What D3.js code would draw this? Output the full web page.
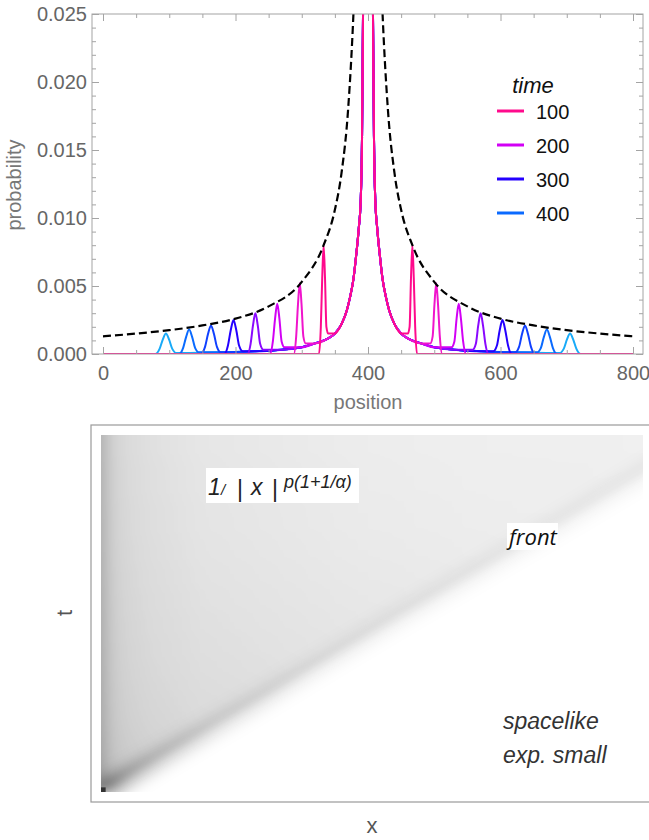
<!DOCTYPE html>
<html>
<head>
<meta charset="utf-8">
<script src="https://cdn.jsdelivr.net/npm/d3@7"></script>
<style>
body { margin: 0; background: #fff; }
svg { display: block; font-family: "Liberation Sans", Arial, sans-serif; }
</style>
</head>
<body>
<svg id="chart" width="649" height="840"></svg>
<script>
// ---------------- top panel: probability vs position ----------------
var times = [100, 150, 200, 250, 300, 350, 400, 450];
var colors = ["#ff0a8c", "#f014cc", "#d200f5", "#8a08ff", "#2400ff", "#1040ff", "#0a6aff", "#18aaf8"];
var legendTimes = [100, 200, 300, 400];
var center = 400;
// ballistic front of each curve (distance from the centre)
var frontOffset = [67, 103, 137, 170, 203, 237, 270, 305];
var frontPeak = [0.0080, 0.0052, 0.0037, 0.0030, 0.0025, 0.0021, 0.0018, 0.0015];
var frontHalfWidth = [7, 9, 11, 12, 14, 15, 15, 16];
// shape of a front bump (u in half widths, fraction of peak)
var bumpU = [-1, -0.6, -0.3, 0, 0.3, 0.6, 1];
var bumpS = [0, 0.25, 0.7, 1, 0.7, 0.25, 0];
// shared central peak + heavy tail
var coreOffset = [0, 3, 5, 7.5, 9, 11, 14, 18, 22, 27, 32, 40, 50, 60, 80, 100, 130, 170, 220, 280, 330];
var coreProb = [0.060, 0.040, 0.031, 0.025, 0.016, 0.0113, 0.0092, 0.0072, 0.0055, 0.0042, 0.0032,
                0.0022, 0.0015, 0.00115, 0.00078, 0.0005, 0.00032, 0.0002, 0.00012, 0.00007, 0.00004];
// dashed envelope
var envOffset = [16, 22, 30, 40, 50, 67, 100, 150, 200, 250, 300, 350, 400];
var envProb = [0.033, 0.025, 0.018, 0.0133, 0.0106, 0.0080, 0.0053, 0.0035, 0.0026, 0.0021, 0.00175, 0.0015, 0.0013];
var xTicks = [0, 200, 400, 600, 800];
var yTicks = [0, 0.005, 0.010, 0.015, 0.020, 0.025];

// ---------------- bottom panel: density in (x, t) ----------------
var frontT = [0, 25, 50, 75, 100, 110];
var frontX = [0, 43, 85, 128, 170, 187];
var tailX = [0, 1.5, 3, 5, 8, 14, 28, 70, 110, 152];
var tailDark = [0.30, 0.24, 0.19, 0.16, 0.14, 0.12, 0.10, 0.075, 0.062, 0.058];
var depthT = [0, 5, 10, 20, 35, 50, 70, 100];
var depthDark = [0.20, 0.10, 0.07, 0.05, 0.035, 0.025, 0.012, 0];
var bandT = [0, 5, 10, 20, 35, 50, 70, 100];
var bandDark = [0.50, 0.30, 0.22, 0.14, 0.09, 0.075, 0.065, 0.06];
var originDark = 0.8;

var svg = d3.select("#chart");
var defs = svg.append("defs");
var font = "'Liberation Sans', Arial, sans-serif";

var xTop = d3.scaleLinear().domain([0, 800]).range([103, 633]);
var yTop = d3.scaleLinear().domain([0, 0.025]).range([354, 14]);
var frameTop = {x0: 92, x1: 643, y0: 14, y1: 354};

defs.append("clipPath").attr("id", "topClip")
    .append("rect")
    .attr("x", frameTop.x0).attr("y", frameTop.y0)
    .attr("width", frameTop.x1 - frameTop.x0).attr("height", frameTop.y1 - frameTop.y0);

// build a curve's points from the core tail and its front bump
function curvePoints(i) {
    var F = frontOffset[i], w = frontHalfWidth[i], pk = frontPeak[i];
    var side = [];
    var base = 0;
    for (var k = 0; k < coreOffset.length; k++) {
        if (coreOffset[k] < F - w) {
            side.push([coreOffset[k], coreProb[k]]);
            base = coreProb[k];
        }
    }
    for (var j = 0; j < bumpU.length; j++) {
        var p = bumpS[j] * pk;
        if (bumpU[j] < 0) p = Math.max(p, base);
        side.push([F + bumpU[j] * w, p]);
    }
    side.push([center, 0]);
    var pts = [];
    for (var a = side.length - 1; a > 0; a--) pts.push([center - side[a][0], side[a][1]]);
    side.forEach(function(d) { pts.push([center + d[0], d[1]]); });
    return pts;
}

var line = d3.line()
    .x(function(d) { return xTop(d[0]); })
    .y(function(d) { return yTop(d[1]); })
    .curve(d3.curveMonotoneX);

var plot = svg.append("g").attr("clip-path", "url(#topClip)");

// draw latest first so the t=100 curve sits on top
var order = d3.range(times.length).reverse();
plot.selectAll("path.curve")
    .data(order)
    .join("path")
    .attr("class", "curve")
    .attr("d", function(i) { return line(curvePoints(i)); })
    .attr("fill", "none")
    .attr("stroke", function(i) { return colors[i]; })
    .attr("stroke-width", 2)
    .attr("stroke-linejoin", "round");

// envelope (both branches)
var envRight = envOffset.map(function(d, i) { return [center + d, envProb[i]]; });
var envLeft = envOffset.map(function(d, i) { return [center - d, envProb[i]]; }).reverse();
plot.selectAll("path.env")
    .data([envLeft, envRight])
    .join("path")
    .attr("class", "env")
    .attr("d", line)
    .attr("fill", "none")
    .attr("stroke", "#000")
    .attr("stroke-width", 2.2)
    .attr("stroke-dasharray", "8,4");

// frame + ticks
svg.append("rect")
    .attr("x", frameTop.x0).attr("y", frameTop.y0)
    .attr("width", frameTop.x1 - frameTop.x0).attr("height", frameTop.y1 - frameTop.y0)
    .attr("fill", "none").attr("stroke", "#a4a4a4").attr("stroke-width", 1);

var xMinor = d3.range(0, 801, 50).filter(function(v) { return v % 200; });
var yMinor = d3.range(1, 25).filter(function(v) { return v % 5; }).map(function(v) { return v / 1000; });

function styleAxis(g) {
    g.select(".domain").remove();
    g.selectAll(".tick line").attr("stroke", "#a4a4a4");
    g.selectAll("text").attr("fill", "#666").attr("font-size", 20).attr("font-family", font);
    g.attr("font-family", font);
}

svg.append("g").attr("transform", "translate(0," + frameTop.y1 + ")")
    .call(d3.axisBottom(xTop).tickValues(xTicks).tickSize(-7).tickPadding(12).tickFormat(d3.format("d")))
    .call(styleAxis);
svg.append("g").attr("transform", "translate(0," + frameTop.y1 + ")")
    .call(d3.axisBottom(xTop).tickValues(xMinor).tickSize(-4).tickFormat(""))
    .call(styleAxis);
svg.append("g").attr("transform", "translate(0," + frameTop.y0 + ")")
    .call(d3.axisTop(xTop).tickValues(xTicks).tickSize(-7).tickFormat(""))
    .call(styleAxis);
svg.append("g").attr("transform", "translate(0," + frameTop.y0 + ")")
    .call(d3.axisTop(xTop).tickValues(xMinor).tickSize(-4).tickFormat(""))
    .call(styleAxis);
svg.append("g").attr("transform", "translate(" + frameTop.x0 + ",0)")
    .call(d3.axisLeft(yTop).tickValues(yTicks).tickSize(-7).tickPadding(5).tickFormat(d3.format(".3f")))
    .call(styleAxis);
svg.append("g").attr("transform", "translate(" + frameTop.x0 + ",0)")
    .call(d3.axisLeft(yTop).tickValues(yMinor).tickSize(-4).tickFormat(""))
    .call(styleAxis);
svg.append("g").attr("transform", "translate(" + frameTop.x1 + ",0)")
    .call(d3.axisRight(yTop).tickValues(yTicks).tickSize(-7).tickFormat(""))
    .call(styleAxis);
svg.append("g").attr("transform", "translate(" + frameTop.x1 + ",0)")
    .call(d3.axisRight(yTop).tickValues(yMinor).tickSize(-4).tickFormat(""))
    .call(styleAxis);

svg.append("text")
    .attr("transform", "translate(21,185) rotate(-90)")
    .attr("text-anchor", "middle")
    .attr("font-size", 20).attr("fill", "#777")
    .text("probability");
svg.append("text")
    .attr("x", 368).attr("y", 409)
    .attr("text-anchor", "middle")
    .attr("font-size", 20).attr("fill", "#777")
    .text("position");

// legend
var legend = svg.append("g").attr("transform", "translate(497,111)");
legend.append("text")
    .attr("x", 36).attr("y", -18)
    .attr("text-anchor", "middle")
    .attr("font-size", 22).attr("font-style", "italic").attr("fill", "#111")
    .text("time");
var items = legend.selectAll("g.item")
    .data(legendTimes)
    .join("g")
    .attr("class", "item")
    .attr("transform", function(d, i) { return "translate(0," + (i * 34) + ")"; });
items.append("line")
    .attr("x1", 0).attr("x2", 27)
    .attr("stroke", function(d) { return colors[times.indexOf(d)]; })
    .attr("stroke-width", 3);
items.append("text")
    .attr("x", 39).attr("y", 8)
    .attr("font-size", 20).attr("fill", "#111")
    .text(function(d) { return d; });

// ---------------- bottom panel ----------------
var xs = d3.scaleLinear().domain([0, 152]).range([101, 643]);
var yt = d3.scaleLinear().domain([0, 100]).range([792, 435]);
var shade = d3.scaleLinear().domain([0, 1]).range(["#ffffff", "#000000"]);

var tailGrad = defs.append("linearGradient").attr("id", "tailGrad")
    .attr("gradientUnits", "userSpaceOnUse")
    .attr("x1", xs(0)).attr("x2", xs(152)).attr("y1", 0).attr("y2", 0);
tailGrad.selectAll("stop").data(tailX).join("stop")
    .attr("offset", function(d) { return (xs(d) - xs(0)) / (xs(152) - xs(0)); })
    .attr("stop-color", function(d, i) { return shade(tailDark[i]); });

var depthGrad = defs.append("linearGradient").attr("id", "depthGrad")
    .attr("gradientUnits", "userSpaceOnUse")
    .attr("x1", 0).attr("x2", 0).attr("y1", yt(0)).attr("y2", yt(100));
depthGrad.selectAll("stop").data(depthT).join("stop")
    .attr("offset", function(d) { return d / 100; })
    .attr("stop-color", "#000")
    .attr("stop-opacity", function(d, i) { return depthDark[i]; });

var bandGrad = defs.append("linearGradient").attr("id", "bandGrad")
    .attr("gradientUnits", "userSpaceOnUse")
    .attr("x1", xs(0)).attr("y1", yt(0)).attr("x2", xs(170)).attr("y2", yt(100));
bandGrad.selectAll("stop").data(bandT).join("stop")
    .attr("offset", function(d) { return d / 100; })
    .attr("stop-color", "#000")
    .attr("stop-opacity", function(d, i) { return bandDark[i]; });

function addBlur(id, sd) {
    defs.append("filter").attr("id", id)
        .attr("filterUnits", "userSpaceOnUse")
        .attr("x", 40).attr("y", 380).attr("width", 680).attr("height", 460)
        .append("feGaussianBlur").attr("stdDeviation", sd);
}
addBlur("softRegion", 4);
addBlur("softBand", 8);

defs.append("clipPath").attr("id", "imgClip")
    .append("rect")
    .attr("x", xs(0)).attr("y", yt(100))
    .attr("width", xs(152) - xs(0)).attr("height", yt(0) - yt(100));

// region behind the front (x < front(t)), padded to the left so blur keeps the edge
var region = [[-12, 0]].concat(frontT.map(function(t, i) { return [frontX[i], t]; }))
    .concat([[-12, 110]]);
var regionLine = d3.line()
    .x(function(d) { return xs(d[0]); })
    .y(function(d) { return yt(d[1]); });
var frontPath = d3.line()
    .x(function(d, i) { return xs(frontX[i]); })
    .y(function(d) { return yt(d); });

var dens = svg.append("g").attr("clip-path", "url(#imgClip)");
var regionG = dens.append("g").attr("filter", "url(#softRegion)");
regionG.append("path").attr("d", regionLine(region) + "Z").attr("fill", "url(#tailGrad)");
regionG.append("path").attr("d", regionLine(region) + "Z").attr("fill", "url(#depthGrad)");
dens.append("g").attr("filter", "url(#softBand)")
    .append("path").attr("d", frontPath(frontT))
    .attr("fill", "none").attr("stroke", "url(#bandGrad)").attr("stroke-width", 16);

svg.append("rect")
    .attr("x", xs(0)).attr("y", yt(1.3))
    .attr("width", xs(1.3) - xs(0)).attr("height", yt(0) - yt(1.3))
    .attr("fill", shade(originDark));

// frame (open on the right, as in the picture)
svg.append("rect")
    .attr("x", 91).attr("y", 425).attr("width", 640).attr("height", 377)
    .attr("fill", "none").attr("stroke", "#9a9a9a").attr("stroke-width", 1.2);

svg.append("text")
    .attr("transform", "translate(72,613) rotate(-90)")
    .attr("text-anchor", "middle")
    .attr("font-size", 22).attr("fill", "#555")
    .text("t");
svg.append("text")
    .attr("x", 372).attr("y", 833)
    .attr("text-anchor", "middle")
    .attr("font-size", 22).attr("fill", "#555")
    .text("x");

// annotations
var ann = svg.append("g").attr("fill", "#222");
ann.append("rect").attr("x", 206).attr("y", 468).attr("width", 153).attr("height", 35).attr("fill", "#fff");
ann.append("text").attr("x", 208).attr("y", 495).attr("font-size", 23).attr("font-style", "italic").text("1");
ann.append("text").attr("x", 221).attr("y", 495).attr("font-size", 15).attr("font-style", "italic").text("/");
ann.append("text").attr("x", 237).attr("y", 497).attr("font-size", 23).text("|");
ann.append("text").attr("x", 251).attr("y", 495).attr("font-size", 23).attr("font-style", "italic").text("x");
ann.append("text").attr("x", 272).attr("y", 497).attr("font-size", 23).text("|");
ann.append("text").attr("x", 284).attr("y", 488).attr("font-size", 18).attr("font-style", "italic").text("p(1+1/α)");

ann.append("rect").attr("x", 507).attr("y", 523).attr("width", 51).attr("height", 27).attr("fill", "#fff");
ann.append("text").attr("x", 509).attr("y", 545)
    .attr("font-family", "'Open Sans', sans-serif")
    .attr("font-size", 22).attr("font-style", "italic").attr("fill", "#111")
    .text("front");

ann.append("text").attr("x", 503).attr("y", 729)
    .attr("font-size", 23).attr("font-style", "italic").attr("fill", "#333")
    .text("spacelike");
ann.append("text").attr("x", 503).attr("y", 763)
    .attr("font-size", 23).attr("font-style", "italic").attr("fill", "#333")
    .text("exp. small");
</script>
</body>
</html>
